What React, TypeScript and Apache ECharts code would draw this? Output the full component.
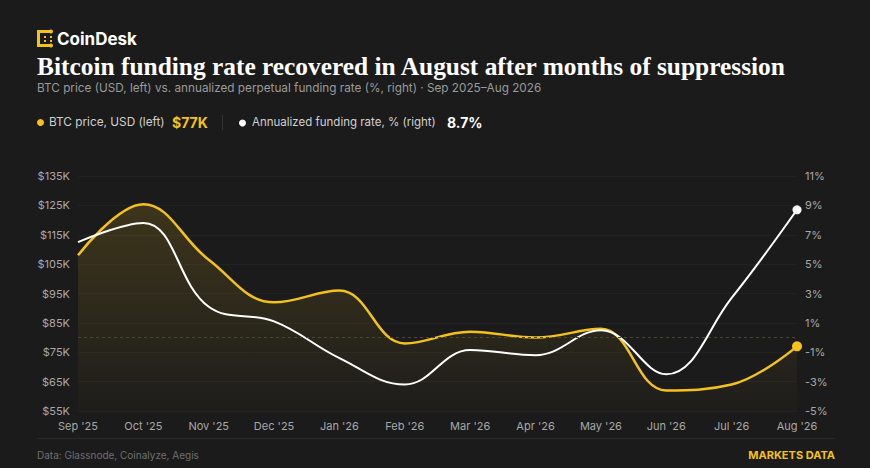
import React, { useEffect, useRef } from "react";
import * as echarts from "echarts";

const months = ["Sep '25", "Oct '25", "Nov '25", "Dec '25", "Jan '26", "Feb '26", "Mar '26", "Apr '26", "May '26", "Jun '26", "Jul '26", "Aug '26"];
const btcPrice = [108, 125.4, 106.5, 92, 96, 78, 82, 80, 83, 62, 64, 77];
const fundingRate = [6.5, 7.8, 2.1, 1.1, -1.4, -3.2, -0.85, -1.2, 0.5, -2.5, 2.7, 8.7];
const leftTicks = { min: 55, max: 135, interval: 10 };
const rightTicks = { min: -5, max: 11, interval: 2 };

const YELLOW = "#F5C21B";
const BG = "#1b1b1b";

export default function App() {
  const ref = useRef<HTMLDivElement>(null);
  useEffect(() => {
    document.body.style.margin = "0";
    const chart = echarts.init(ref.current!, null, { renderer: "svg" });
    const sans = "Inter, 'Noto Sans', sans-serif";
    const lastIdx = btcPrice.length - 1;
    chart.setOption({
      animation: false,
      backgroundColor: BG,
      grid: { left: 78, right: 73, top: 176, bottom: 57 },
      xAxis: {
        type: "category",
        data: months,
        boundaryGap: false,
        axisLine: { show: false },
        axisTick: { show: false },
        axisLabel: { color: "#a8a8a8", fontSize: 11, fontFamily: sans, margin: 9 },
      },
      yAxis: [
        {
          type: "value",
          min: leftTicks.min,
          max: leftTicks.max,
          interval: leftTicks.interval,
          axisLine: { show: false },
          axisTick: { show: false },
          splitLine: { lineStyle: { color: "#222222", width: 1 } },
          axisLabel: { color: "#a8a8a8", fontSize: 11, fontFamily: sans, margin: 8, formatter: (v: number) => `$${v}K` },
        },
        {
          type: "value",
          min: rightTicks.min,
          max: rightTicks.max,
          interval: rightTicks.interval,
          axisLine: { show: false },
          axisTick: { show: false },
          splitLine: { show: false },
          axisLabel: { color: "#a8a8a8", fontSize: 11, fontFamily: sans, margin: 8, formatter: (v: number) => `${v}%` },
        },
      ],
      series: [
        {
          name: "BTC price",
          type: "line",
          yAxisIndex: 0,
          data: btcPrice.map((v, i) => (i === lastIdx ? { value: v, symbol: "circle", symbolSize: 10 } : v)),
          smooth: 0.4,
          symbol: "none",
          lineStyle: { color: YELLOW, width: 2.5 },
          itemStyle: { color: YELLOW },
          areaStyle: {
            color: new echarts.graphic.LinearGradient(0, 0, 0, 1, [
              { offset: 0, color: "rgba(245,194,27,0.22)" },
              { offset: 1, color: "rgba(245,194,27,0.02)" },
            ]),
          },
          z: 2,
        },
        {
          name: "Funding rate",
          type: "line",
          yAxisIndex: 1,
          data: fundingRate.map((v, i) => (i === lastIdx ? { value: v, symbol: "circle", symbolSize: 9 } : v)),
          smooth: 0.4,
          symbol: "none",
          lineStyle: { color: "#ffffff", width: 2 },
          itemStyle: { color: "#ffffff" },
          markLine: {
            silent: true,
            symbol: "none",
            label: { show: false },
            lineStyle: { color: "#4a4535", type: [3, 3], width: 1 },
            data: [{ yAxis: 0 }],
          },
          z: 3,
        },
      ],
      graphic: [
        // logo icon
        { type: "rect", shape: { x: 37, y: 30, width: 3, height: 17 }, style: { fill: YELLOW } },
        { type: "rect", shape: { x: 37, y: 30, width: 14, height: 3 }, style: { fill: YELLOW } },
        { type: "rect", shape: { x: 37, y: 44, width: 14, height: 3 }, style: { fill: YELLOW } },
        { type: "circle", shape: { cx: 51, cy: 31.5, r: 2 }, style: { fill: YELLOW } },
        { type: "circle", shape: { cx: 51, cy: 45.5, r: 2 }, style: { fill: YELLOW } },
        { type: "rect", shape: { x: 44, y: 36, width: 2, height: 2 }, style: { fill: YELLOW } },
        { type: "rect", shape: { x: 44, y: 40, width: 2, height: 2 }, style: { fill: YELLOW } },
        { type: "rect", shape: { x: 50, y: 36, width: 2, height: 2 }, style: { fill: YELLOW } },
        { type: "rect", shape: { x: 50, y: 40, width: 2, height: 2 }, style: { fill: YELLOW } },
        { type: "text", x: 57, y: 39, style: { text: "CoinDesk", fill: "#ffffff", font: `bold 17px ${sans}`, verticalAlign: "middle" } },
        // title
        {
          type: "text",
          x: 37,
          y: 66,
          style: {
            text: "Bitcoin funding rate recovered in August after months of suppression",
            fill: "#ffffff",
            font: "bold 25.4px 'Liberation Serif', 'DejaVu Serif', serif",
            verticalAlign: "middle",
          },
        },
        {
          type: "text",
          x: 37,
          y: 88,
          style: {
            text: "BTC price (USD, left) vs. annualized perpetual funding rate (%, right) · Sep 2025–Aug 2026",
            fill: "#9a9a9a",
            font: `11.75px ${sans}`,
            verticalAlign: "middle",
          },
        },
        // legend
        { type: "circle", shape: { cx: 40.5, cy: 122.5, r: 3.5 }, style: { fill: YELLOW } },
        { type: "text", x: 49, y: 122, style: { text: "BTC price, USD (left)", fill: "#d0d0d0", font: `11.8px ${sans}`, verticalAlign: "middle" } },
        { type: "text", x: 172, y: 122, style: { text: "$77K", fill: YELLOW, font: `bold 14px ${sans}`, verticalAlign: "middle" } },
        { type: "rect", shape: { x: 222, y: 115, width: 1, height: 15 }, style: { fill: "#333333" } },
        { type: "circle", shape: { cx: 242.5, cy: 123, r: 3.5 }, style: { fill: "#ffffff" } },
        { type: "text", x: 252, y: 122, style: { text: "Annualized funding rate, % (right)", fill: "#d0d0d0", font: `11.5px ${sans}`, verticalAlign: "middle" } },
        { type: "text", x: 447, y: 122, style: { text: "8.7%", fill: "#ffffff", font: `bold 14px ${sans}`, verticalAlign: "middle" } },
        // footer
        { type: "rect", shape: { x: 37, y: 438, width: 798, height: 1 }, style: { fill: "#2a2a2a" } },
        { type: "text", x: 37, y: 455, style: { text: "Data: Glassnode, Coinalyze, Aegis", fill: "#6f6f6f", font: `10px ${sans}`, verticalAlign: "middle" } },
        { type: "text", x: 835, y: 455, style: { text: "MARKETS DATA", fill: YELLOW, font: `bold 11px ${sans}`, align: "right", verticalAlign: "middle" } },
      ],
    });
    return () => chart.dispose();
  }, []);
  return <div ref={ref} style={{ position: "fixed", left: 0, top: 0, width: 870, height: 468 }} />;
}
